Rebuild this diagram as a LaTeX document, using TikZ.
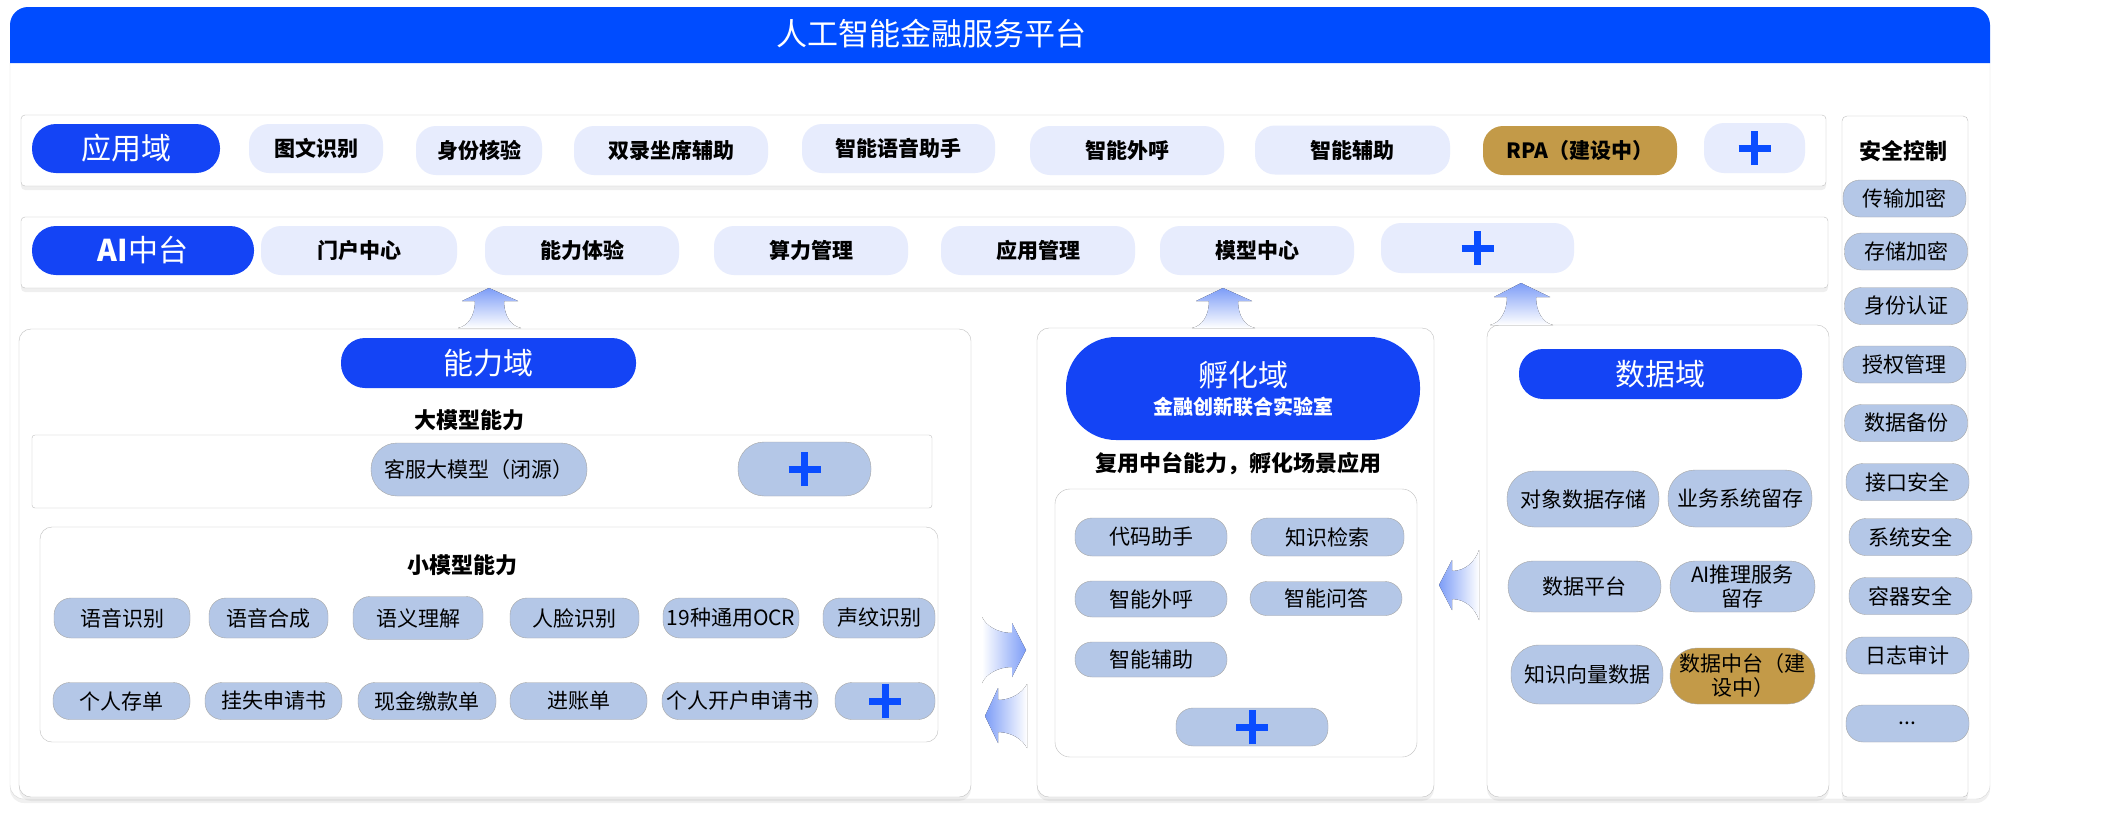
\documentclass[tikz,border=0pt]{standalone}
\usepackage{fontspec}
\setmainfont{Noto Sans CJK SC}
\usetikzlibrary{shadows}

\definecolor{titleblue}{HTML}{004CFF}
\definecolor{domblue}{HTML}{1444F5}
\definecolor{applight}{HTML}{E7ECFD}
\definecolor{capfill}{HTML}{B4C7E7}
\definecolor{capborder}{HTML}{A6A6A6}
\definecolor{gold}{HTML}{C39A48}
\definecolor{panelgray}{HTML}{BFBFBF}
\definecolor{arrowblue}{HTML}{7D9DF7}
\definecolor{plusblue}{HTML}{0A4DFF}

\tikzstyle{rowbox} = [rectangle, rounded corners=4pt, draw=panelgray, fill=white, inner sep=0pt, drop shadow={opacity=0.12, shadow xshift=0pt, shadow yshift=-4pt}]
\tikzstyle{panelbox} = [rectangle, rounded corners=12pt, draw=panelgray, fill=white, inner sep=0pt]
\tikzstyle{dombox} = [rectangle, rounded corners=24pt, fill=domblue, text=white, inner sep=0pt, font=\fontsize{30}{34}\selectfont]
\tikzstyle{appitem} = [rectangle, rounded corners=20pt, fill=applight, inner sep=0pt, minimum height=49pt, font=\bfseries\fontsize{21}{25}\selectfont]
\tikzstyle{capitem} = [rectangle, rounded corners=17pt, fill=capfill, draw=capborder, inner sep=0pt, align=center, font=\fontsize{21}{24}\selectfont]
\tikzstyle{heading} = [inner sep=0pt, font=\bfseries\fontsize{22}{26}\selectfont]
\tikzstyle{plusmark} = [path picture={
  \draw[plusblue, line width=7pt] ([xshift=-16pt]path picture bounding box.center) -- ([xshift=16pt]path picture bounding box.center);
  \draw[plusblue, line width=7pt] ([yshift=-17pt]path picture bounding box.center) -- ([yshift=17pt]path picture bounding box.center);}]

\begin{document}
\begin{tikzpicture}[x=1pt, y=-1pt]
\useasboundingbox (0,0) rectangle (2117,812);

% Frame and title
\draw[panelgray!60, fill=white, rounded corners=14pt, drop shadow={opacity=0.12, shadow xshift=0pt, shadow yshift=-4pt}] (10,63) -- (10,799) -- (1990,799) -- (1990,63);
\fill[titleblue, rounded corners=18pt] (10,63) -- (10,7) -- (1990,7) -- (1990,63);
\node[text=white, font=\fontsize{31}{36}\selectfont] (title) at (931,34) {人工智能金融服务平台};

% Application row
\node[rowbox, minimum width=1805pt, minimum height=71pt] (approw) at (923.5,150.5) {};
\node[dombox, minimum width=188pt, minimum height=49pt] (appdom) at (126,148.5) {应用域};
\node[appitem, minimum width=134pt] (tuwen) at (316,148.5) {图文识别};
\node[appitem, minimum width=126pt] (shenfen) at (479,150.5) {身份核验};
\node[appitem, minimum width=194pt] (shuanglu) at (671,150.5) {双录坐席辅助};
\node[appitem, minimum width=193pt] (yuyin) at (898.5,148.5) {智能语音助手};
\node[appitem, minimum width=194pt] (waihu) at (1127,150.5) {智能外呼};
\node[appitem, minimum width=195pt] (fuzhu) at (1352.5,150) {智能辅助};
\node[appitem, fill=gold, minimum width=194pt] (rpa) at (1580,150.5) {RPA（建设中）};
\node[appitem, plusmark, minimum width=101pt, minimum height=50pt] (appplus) at (1754.5,148) {};

% AI platform row
\node[rowbox, minimum width=1807pt, minimum height=71pt] (airow) at (924.5,252.5) {};
\node[dombox, minimum width=222pt, minimum height=49pt] (aidom) at (143,250.5) {\textbf{AI}中台};
\node[appitem, minimum width=196pt] (menhu) at (359,250.5) {门户中心};
\node[appitem, minimum width=194pt] (tiyan) at (582,250.5) {能力体验};
\node[appitem, minimum width=194pt] (suanli) at (811,250.5) {算力管理};
\node[appitem, minimum width=194pt] (yingyong) at (1038,250.5) {应用管理};
\node[appitem, minimum width=194pt] (moxing) at (1257,250.5) {模型中心};
\node[appitem, plusmark, minimum width=193pt, minimum height=50pt] (aiplus) at (1477.5,248) {};

% Capability domain
\node[panelbox, minimum width=952pt, minimum height=468pt, drop shadow={opacity=0.12, shadow xshift=0pt, shadow yshift=-4pt}] (cappanel) at (495,563) {};
\node[dombox, minimum width=295pt, minimum height=50pt] (capdom) at (488.5,363) {能力域};
\node[heading] (bigtitle) at (469,420) {大模型能力};
\node[panelbox, rounded corners=3pt, minimum width=900pt, minimum height=73pt] (bigbox) at (482,471.5) {};
\node[capitem, rounded corners=26pt, minimum width=216pt, minimum height=53pt] (kefu) at (479,469.5) {客服大模型（闭源）};
\node[capitem, plusmark, rounded corners=26pt, minimum width=133pt, minimum height=54pt] (bigplus) at (804.5,469) {};
\node[panelbox, minimum width=898pt, minimum height=215pt] (smallbox) at (489,634.5) {};
\node[heading] (smalltitle) at (462,565) {小模型能力};
\node[capitem, minimum width=136pt, minimum height=40pt] (yysb) at (122,618) {语音识别};
\node[capitem, minimum width=119pt, minimum height=40pt] (yyhc) at (268.5,618) {语音合成};
\node[capitem, minimum width=130pt, minimum height=43pt] (yylj) at (418,618) {语义理解};
\node[capitem, minimum width=129pt, minimum height=40pt] (rlsb) at (574.5,618) {人脸识别};
\node[capitem, minimum width=136pt, minimum height=40pt] (ocr) at (731,618) {19种通用OCR};
\node[capitem, minimum width=112pt, minimum height=40pt] (swsb) at (879,618) {声纹识别};
\node[capitem, minimum width=137pt, minimum height=37pt] (grcd) at (121.5,701) {个人存单};
\node[capitem, minimum width=137pt, minimum height=37pt] (gssq) at (273.5,701) {挂失申请书};
\node[capitem, minimum width=138pt, minimum height=37pt] (xjjk) at (427,701) {现金缴款单};
\node[capitem, minimum width=137pt, minimum height=37pt] (jzd) at (578.5,701) {进账单};
\node[capitem, minimum width=156pt, minimum height=37pt] (grkh) at (740,701) {个人开户申请书};
\node[capitem, plusmark, minimum width=100pt, minimum height=37pt] (smallplus) at (885,701) {};

% Incubation domain
\node[panelbox, minimum width=397pt, minimum height=469pt, drop shadow={opacity=0.12, shadow xshift=0pt, shadow yshift=-4pt}] (incpanel) at (1235.5,562.5) {};
\node[dombox, rounded corners=50pt, minimum width=354pt, minimum height=103pt, align=center] (incdom) at (1243,388.5) {孵化域\\[-6pt]{\bfseries\fontsize{20}{24}\selectfont 金融创新联合实验室}};
\node[heading] (inctitle) at (1238,464) {复用中台能力，孵化场景应用};
\node[panelbox, rounded corners=15pt, minimum width=362pt, minimum height=268pt] (incbox) at (1236,623) {};
\node[capitem, minimum width=152pt, minimum height=38pt] (daima) at (1151,537) {代码助手};
\node[capitem, minimum width=153pt, minimum height=38pt] (jiansuo) at (1327.5,537) {知识检索};
\node[capitem, minimum width=152pt, minimum height=36pt] (incwaihu) at (1151,599) {智能外呼};
\node[capitem, minimum width=152pt, minimum height=34pt] (wenda) at (1326,598.5) {智能问答};
\node[capitem, minimum width=152pt, minimum height=35pt] (incfuzhu) at (1151,659.5) {智能辅助};
\node[capitem, plusmark, minimum width=152pt, minimum height=38pt] (incplus) at (1252,727) {};

% Data domain
\node[panelbox, minimum width=342pt, minimum height=472pt, drop shadow={opacity=0.12, shadow xshift=0pt, shadow yshift=-4pt}] (datapanel) at (1658,561) {};
\node[dombox, minimum width=283pt, minimum height=50pt] (datadom) at (1660.5,374) {数据域};
\node[capitem, rounded corners=27pt, minimum width=152pt, minimum height=56pt] (duixiang) at (1583,499) {对象数据存储};
\node[capitem, rounded corners=27pt, minimum width=144pt, minimum height=57pt] (yewu) at (1740,498.5) {业务系统留存};
\node[capitem, rounded corners=25pt, minimum width=153pt, minimum height=51pt] (shujupt) at (1584.5,586.5) {数据平台};
\node[capitem, rounded corners=25pt, minimum width=145pt, minimum height=51pt] (tuili) at (1742.5,586.5) {AI推理服务\\留存};
\node[capitem, rounded corners=28pt, minimum width=152pt, minimum height=59pt] (xiangliang) at (1587,674.5) {知识向量数据};
\node[capitem, fill=gold, rounded corners=27pt, minimum width=145pt, minimum height=56pt] (shujuzt) at (1742.5,676) {数据中台（建\\设中）};

% Security column
\node[panelbox, rounded corners=5pt, minimum width=126pt, minimum height=681pt, drop shadow={opacity=0.12, shadow xshift=0pt, shadow yshift=-4pt}] (secpanel) at (1905,456.5) {};
\node[heading] (sectitle) at (1903,151) {安全控制};
\node[capitem, minimum width=123pt, minimum height=37pt] (chuanshu) at (1904.5,198.5) {传输加密};
\node[capitem, minimum width=123pt, minimum height=37pt] (cunchu) at (1906,251.5) {存储加密};
\node[capitem, minimum width=123pt, minimum height=37pt] (renzheng) at (1906,306) {身份认证};
\node[capitem, minimum width=123pt, minimum height=37pt] (shouquan) at (1904.5,364.5) {授权管理};
\node[capitem, minimum width=123pt, minimum height=37pt] (beifen) at (1906,423) {数据备份};
\node[capitem, minimum width=123pt, minimum height=37pt] (jiekou) at (1907.5,482) {接口安全};
\node[capitem, minimum width=123pt, minimum height=37pt] (xitong) at (1910.5,537) {系统安全};
\node[capitem, minimum width=123pt, minimum height=37pt] (rongqi) at (1910.5,596) {容器安全};
\node[capitem, minimum width=123pt, minimum height=37pt] (rizhi) at (1907.5,655.5) {日志审计};
\node[capitem, minimum width=123pt, minimum height=37pt] (more) at (1907.5,723.5) {...};

% Flow arrows
\coordinate (upA) at (489,288);
\coordinate (upB) at (1223,288);
\coordinate (upC) at (1521,283);
\fill[top color=arrowblue, bottom color=white] (upA) -- ++(29,13) -- ++(-14,0) .. controls +(0,15) and +(-10,-2) .. ++(17,27) -- ++(-63,0) .. controls +(10,-2) and +(0,15) .. ++(17,-27) -- ++(-13,0) -- cycle;
\fill[top color=arrowblue, bottom color=white] (upB) -- ++(29,13) -- ++(-14,0) .. controls +(0,15) and +(-10,-2) .. ++(17,27) -- ++(-63,0) .. controls +(10,-2) and +(0,15) .. ++(17,-27) -- ++(-13,0) -- cycle;
\fill[top color=arrowblue, bottom color=white] (upC) -- ++(29,14) -- ++(-14,0) .. controls +(0,15) and +(-10,-2) .. ++(17,28) -- ++(-63,0) .. controls +(10,-2) and +(0,15) .. ++(17,-28) -- ++(-13,0) -- cycle;
\fill[left color=white, right color=arrowblue] (1026,650) -- (1012,623) -- (1012,633) .. controls (998,633) and (986,626) .. (982,617) -- (982,683) .. controls (986,674) and (998,667) .. (1012,667) -- (1012,677) -- cycle;
\fill[left color=arrowblue, right color=white] (985,716) -- (998,688) -- (998,700) .. controls (1012,700) and (1023,692) .. (1027,684) -- (1027,748) .. controls (1023,740) and (1012,732) .. (998,732) -- (998,743) -- cycle;
\fill[left color=arrowblue, right color=white] (1439,585) -- (1452,560) -- (1452,571) .. controls (1465,571) and (1475,562) .. (1479,550) -- (1479,620) .. controls (1475,608) and (1465,599) .. (1452,599) -- (1452,610) -- cycle;

\end{tikzpicture}
\end{document}
